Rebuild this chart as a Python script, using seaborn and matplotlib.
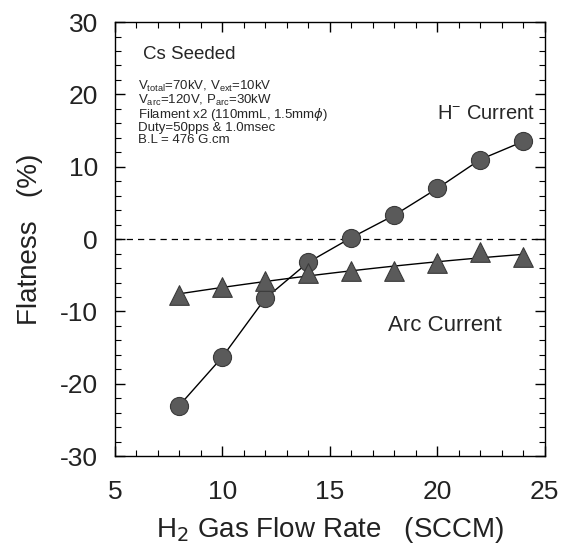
import numpy as np
import pandas as pd
import matplotlib
matplotlib.use("Agg")
import matplotlib.pyplot as plt
import seaborn as sns
from matplotlib.ticker import MultipleLocator

flow = [8, 10, 12, 14, 16, 18, 20, 22, 24]
h_minus = [-23.0, -16.3, -8.2, -3.2, 0.2, 3.3, 7.0, 11.0, 13.5]
arc = [-7.7, -6.6, -5.8, -4.7, -4.4, -4.4, -3.3, -1.8, -2.4]

sns.set_theme(style="ticks")
plt.rcParams['font.family'] = ['Liberation Sans', 'DejaVu Sans']
plt.rcParams['axes.unicode_minus'] = False

fig = plt.figure(figsize=(5.71, 5.51), dpi=100)
ax = fig.add_axes([0.201, 0.172, 0.753, 0.788])

df = pd.DataFrame({"flow": flow, "h": h_minus, "arc": arc})

ax.axhline(0, color="black", ls=(0, (5, 4)), lw=0.9, zorder=1)

# H- current: connected curve
sns.lineplot(data=df, x="flow", y="h", ax=ax, color="black", lw=1.0, zorder=2)
sns.scatterplot(data=df, x="flow", y="h", ax=ax, marker="o", s=170,
                color="#5a5a5a", edgecolor="#3a3a3a", linewidth=0.8, zorder=3)

# Arc current: quadratic fit line
coef = np.polyfit(flow, arc, 2)
xs = np.linspace(flow[0], flow[-1], 50)
fit = pd.DataFrame({"flow": xs, "y": np.polyval(coef, xs)})
sns.lineplot(data=fit, x="flow", y="y", ax=ax, color="black", lw=1.0, zorder=2)
sns.scatterplot(data=df, x="flow", y="arc", ax=ax, marker="^", s=200,
                color="#5a5a5a", edgecolor="#3a3a3a", linewidth=0.8, zorder=3)

ax.set_xlim(5, 25)
ax.set_ylim(-30, 30)
ax.xaxis.set_major_locator(MultipleLocator(5))
ax.xaxis.set_minor_locator(MultipleLocator(1))
ax.yaxis.set_major_locator(MultipleLocator(10))
ax.yaxis.set_minor_locator(MultipleLocator(2))
ax.tick_params(which="both", direction="in", top=True, right=True, color="black")
ax.tick_params(which="major", length=7, width=1.0, labelsize=19, pad=12,
               labelcolor="#222222")
ax.tick_params(axis="x", which="major", pad=17)
ax.tick_params(which="minor", length=4, width=0.8)
for s in ax.spines.values():
    s.set_color("black")
    s.set_linewidth(1.0)

ax.set_xlabel("H$_2$ Gas Flow Rate   (SCCM)", fontsize=20, color="#222222", labelpad=8)
ax.set_ylabel("Flatness   (%)", fontsize=20, color="#222222", labelpad=12)

ax.text(0.065, 0.925, "Cs Seeded", transform=ax.transAxes, fontsize=13.5, va="center")
params = ("V$_{\\mathregular{total}}$=70kV, V$_{\\mathregular{ext}}$=10kV\n"
          "V$_{\\mathregular{arc}}$=120V, P$_{\\mathregular{arc}}$=30kW\n"
          "Filament x2 (110mmL, 1.5mm$\\phi$)\n"
          "Duty=50pps & 1.0msec\n"
          "B.L = 476 G.cm")
ax.text(0.055, 0.87, params, transform=ax.transAxes, fontsize=9.5, va="top",
        linespacing=0.9)
ax.text(0.75, 0.79, "H$^{\\mathregular{-}}$ Current", transform=ax.transAxes,
        fontsize=14.5, va="center")
ax.text(0.635, 0.30, "Arc Current", transform=ax.transAxes, fontsize=16, va="center")

fig.savefig("out.png", dpi=100)
